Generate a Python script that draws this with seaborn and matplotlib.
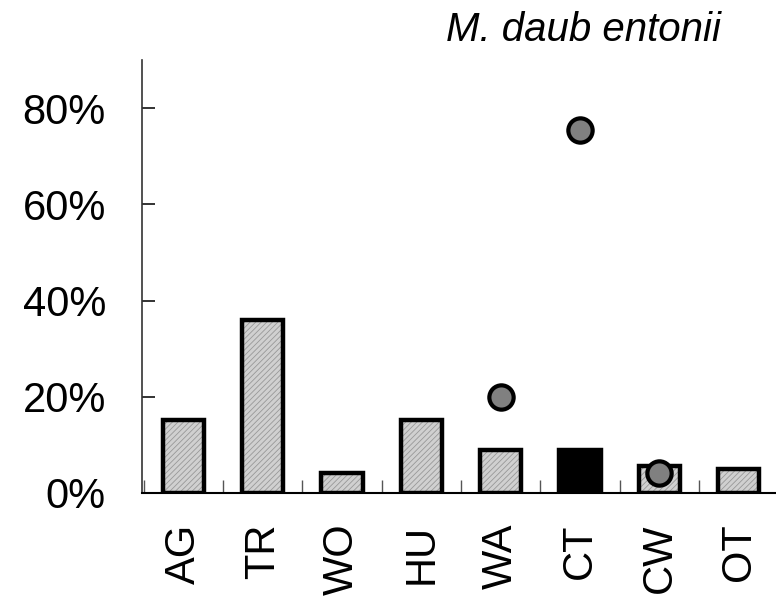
import matplotlib
matplotlib.use("Agg")
import matplotlib.pyplot as plt
import seaborn as sns
import numpy as np

# ---- data ----
categories = ["AG", "TR", "WO", "HU", "WA", "CT", "CW", "OT"]
bar_values = [15.2, 36.0, 4.2, 15.2, 8.9, 8.9, 5.6, 5.0]
dot_categories = ["WA", "CT", "CW"]
dot_values = [20.0, 75.5, 4.2]
y_ticks = [0, 20, 40, 60, 80]
y_tick_labels = ["0%", "20%", "40%", "60%", "80%"]
title = "M. daub entonii"

# ---- style ----
sns.set_style("white")
plt.rcParams["font.family"] = ["Liberation Sans", "DejaVu Sans"]
plt.rcParams["hatch.linewidth"] = 0.6
plt.rcParams["text.color"] = "black"
plt.rcParams["xtick.color"] = "black"
plt.rcParams["ytick.color"] = "black"
plt.rcParams["xtick.labelcolor"] = "black"
plt.rcParams["ytick.labelcolor"] = "black"

bar_colors = ["#d0d0d0"] * 5 + ["#000000"] + ["#d0d0d0"] * 2

fig = plt.figure(figsize=(7.76, 6.05), dpi=100)
ax = fig.add_axes([142 / 776, 1 - 493 / 605, (776 - 142) / 776, (493 - 60) / 605])

# base filled / hatched bars
sns.barplot(x=categories, y=bar_values, order=categories, hue=categories,
            hue_order=categories, palette=bar_colors, width=0.52,
            saturation=1, edgecolor="#989898", linewidth=0, legend=False,
            ax=ax, zorder=1)
for p in ax.patches:
    fc = p.get_facecolor()
    if fc[0] > 0.5:
        p.set_hatch("//////")

# outline layer
sns.barplot(x=categories, y=bar_values, order=categories, width=0.52,
            fill=False, color="black", linewidth=3.2, ax=ax, zorder=2)

# dots
sns.stripplot(x=dot_categories, y=dot_values, order=categories, jitter=False,
              size=17.5, color="#808080", edgecolor="black", linewidth=3.0,
              ax=ax, zorder=3)

ax.set_xlim(-0.523, 7.47)
ax.set_ylim(0, 90)
ax.set_yticks(y_ticks)
ax.set_yticklabels(y_tick_labels)
ax.set_xticks(range(len(categories)))
ax.set_xticklabels(categories, rotation=90)
ax.set_xticks(np.arange(-0.5, len(categories) - 0.5, 1.0), minor=True)
ax.set_xlabel("")
ax.set_ylabel("")

ax.tick_params(axis="y", which="major", direction="in", length=9.5, width=1.2,
               color="#111111", labelsize=30, pad=26, left=True,
               labelcolor="black")
ax.tick_params(axis="x", which="major", length=0, labelsize=30, pad=22,
               labelcolor="black")
ax.tick_params(axis="x", which="minor", direction="in", length=9.5, width=1.0,
               color="#555555", bottom=True)

for s in ["top", "right"]:
    ax.spines[s].set_visible(False)
ax.spines["left"].set_color("#333333")
ax.spines["left"].set_linewidth(1.2)
ax.spines["bottom"].set_color("black")
ax.spines["bottom"].set_linewidth(1.5)
ax.grid(False)

fig.text(584 / 776, 1 - 30 / 605, title, style="italic", fontsize=29,
         ha="center", va="center", color="black")

fig.savefig("out.png", dpi=100)
